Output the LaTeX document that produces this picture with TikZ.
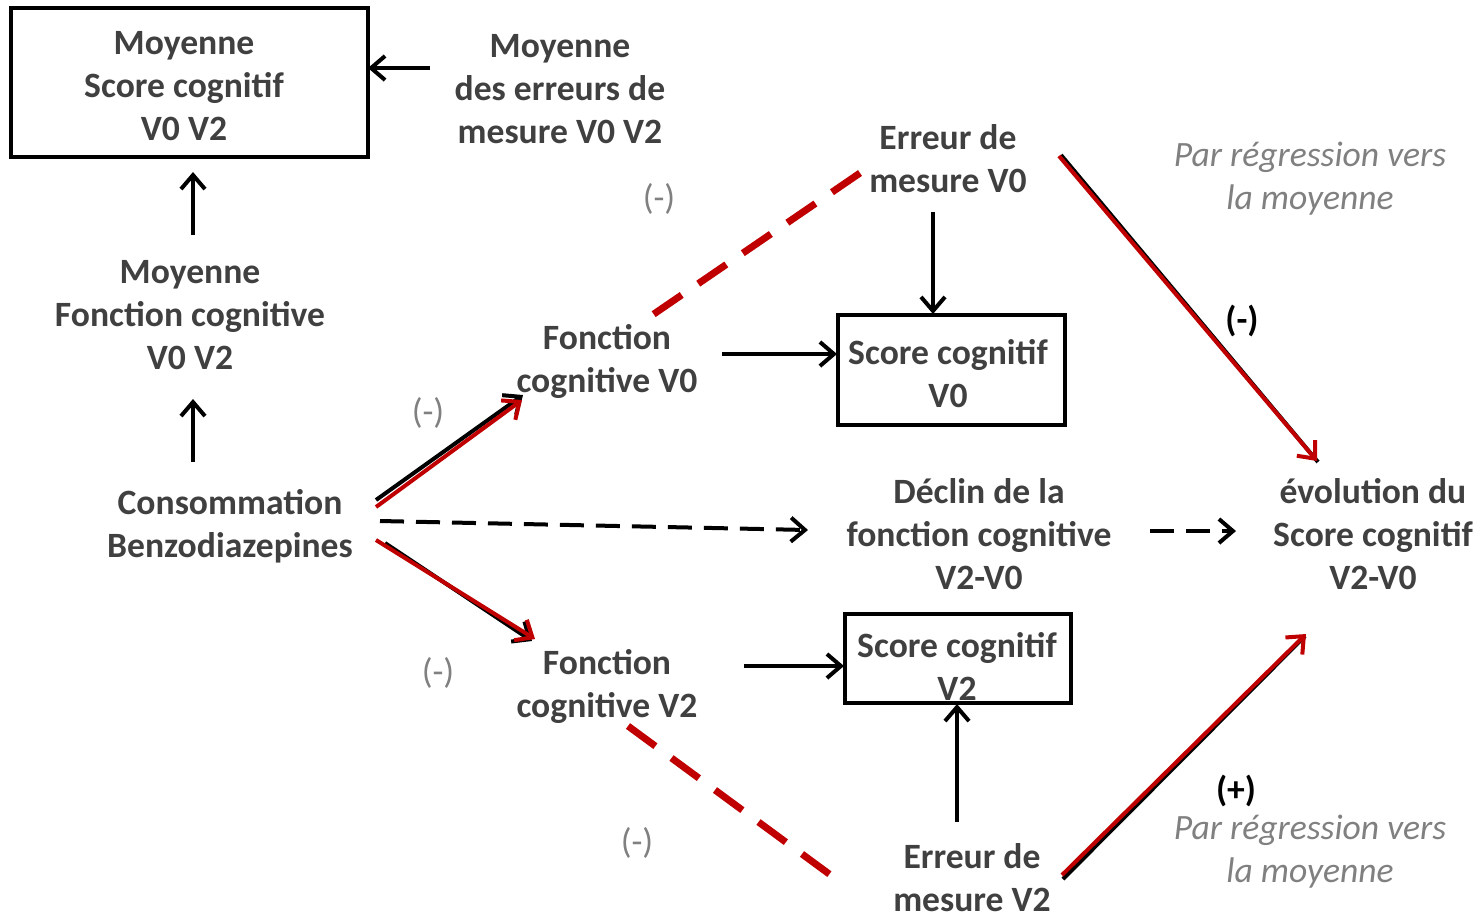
\documentclass[tikz,border=0pt]{standalone}
\usepackage{fontspec}
\setmainfont{Carlito}
\usetikzlibrary{arrows.meta}
\definecolor{txt}{HTML}{404040}
\definecolor{dred}{HTML}{C00000}
\definecolor{lgray}{HTML}{808080}
\begin{document}
\begin{tikzpicture}[x=0.5pt,y=-0.5pt,
 lbl/.style={font=\fontsize{17.8}{21.5}\selectfont\bfseries, text=txt, align=center, inner sep=0pt},
 box/.style={lbl, draw=black, line width=2pt, inner sep=0pt},
 sgn/.style={font=\fontsize{17.8}{21.5}\selectfont, text=lgray, inner sep=0pt},
 bsgn/.style={font=\fontsize{17.8}{21.5}\selectfont\bfseries, text=black, inner sep=0pt},
 note/.style={font=\fontsize{17.8}{21.5}\selectfont\itshape, text=lgray, align=center, inner sep=0pt},
 arr/.style={line width=2pt, -{Straight Barb[length=7pt,width=12pt]}},
 darr/.style={arr, dash pattern=on 12pt off 6pt},
 rarr/.style={draw=dred, line width=2pt, -{Straight Barb[length=7pt,width=12pt]}},
 rdash/.style={draw=dred, line width=3.5pt, dash pattern=on 17pt off 10pt}
]
\useasboundingbox (0,0) rectangle (1481,918);

% nodes
\node[box, minimum width=178.5pt, minimum height=74.5pt] (msc) at (189.5,82.5) {};
\node[lbl] (msct) at (184,86) {Moyenne\\Score cognitif\\V0 V2};
\node[lbl] (mer) at (560,89) {Moyenne\\des erreurs de\\mesure V0 V2};
\node[lbl] (mfc) at (190,315) {Moyenne\\Fonction cognitive\\V0 V2};
\node[lbl] (cons) at (230,526) {Consommation\\Benzodiazepines};
\node[lbl] (e0) at (948,159) {Erreur de\\mesure V0};
\node[box, minimum width=113.5pt, minimum height=55pt] (s0) at (951.5,370) {};
\node[lbl] (s0t) at (948,374) {Score cognitif\\V0};
\node[lbl] (f0) at (607,361) {Fonction\\cognitive V0};
\node[lbl] (dec) at (979,534) {Déclin de la\\fonction cognitive\\V2-V0};
\node[lbl] (evo) at (1373,534) {évolution du\\Score cognitif\\V2-V0};
\node[note] (n1) at (1310,179) {Par régression vers\\la moyenne};
\node[note] (n2) at (1310,852) {Par régression vers\\la moyenne};
\node[lbl] (f2) at (607,686) {Fonction\\cognitive V2};
\node[box, minimum width=113pt, minimum height=44.5pt] (s2) at (958,658.5) {};
\node[lbl] (s2t) at (957,666) {Score cognitif\\V2};
\node[lbl] (e2) at (972,878) {Erreur de\\mesure V2};

\node[sgn] (g1) at (659,199) {(-)};
\node[sgn] (g2) at (428,413) {(-)};
\node[sgn] (g3) at (438,673) {(-)};
\node[sgn] (g4) at (637,843) {(-)};
\node[bsgn] (b1) at (1242,321) {(-)};
\node[bsgn] (b2) at (1236,791) {(+)};

% connector coordinates
\coordinate (merW) at (430,68);
\coordinate (mscE) at (368,68);
\coordinate (mfcN) at (193,235);
\coordinate (mscS) at (193,172);
\coordinate (consN) at (193,462);
\coordinate (mfcS) at (193,399);
\coordinate (e0S) at (933,212);
\coordinate (s0N) at (933,314);
\coordinate (f0E) at (722,354);
\coordinate (s0W) at (837,354);
\coordinate (f2E) at (744,666);
\coordinate (s2W) at (844,666);
\coordinate (e2N) at (957,822);
\coordinate (s2S) at (957,704);
\coordinate (consE) at (380,521);
\coordinate (decW) at (808,530);
\coordinate (decE) at (1150,531);
\coordinate (evoW) at (1236,531);

% black arrows
\draw[arr] (merW) -- (mscE);
\draw[arr] (mfcN) -- (mscS);
\draw[arr] (consN) -- (mfcS);
\draw[arr] (e0S) -- (s0N);
\draw[arr] (f0E) -- (s0W);
\draw[arr] (f2E) -- (s2W);
\draw[arr] (e2N) -- (s2S);
\draw[darr] (consE) -- (decW);
\draw[darr] (decE) -- (evoW);

% red dashed links
\coordinate (e0L) at (860,173);
\coordinate (f0U) at (648,318);
\coordinate (f2D) at (628,726);
\coordinate (e2L) at (836,879);
\draw[rdash] (e0L) -- (f0U);
\draw[rdash] (f2D) -- (e2L);

% black + red arrows
\coordinate (c1b) at (376,500); \coordinate (f0b) at (523,395);
\coordinate (c1r) at (376,507); \coordinate (f0r) at (522,400);
\draw[arr] (c1b) -- (f0b);
\draw[rarr] (c1r) -- (f0r);

\coordinate (c2b) at (385,543); \coordinate (f2b) at (532,641);
\coordinate (c2r) at (376,540); \coordinate (f2r) at (535,639);
\draw[arr] (c2b) -- (f2b);
\draw[rarr] (c2r) -- (f2r);

\coordinate (e0b) at (1061,155); \coordinate (evob) at (1318,462);
\coordinate (e0r) at (1059,156); \coordinate (evor) at (1317,461);
\draw[line width=2pt] (e0b) -- (evob);
\draw[rarr] (e0r) -- (evor);

\coordinate (e2b) at (1063,879); \coordinate (evo2b) at (1305,636);
\coordinate (e2r) at (1062,875); \coordinate (evo2r) at (1306,634);
\draw[line width=2pt] (e2b) -- (evo2b);
\draw[rarr] (e2r) -- (evo2r);
\end{tikzpicture}
\end{document}
